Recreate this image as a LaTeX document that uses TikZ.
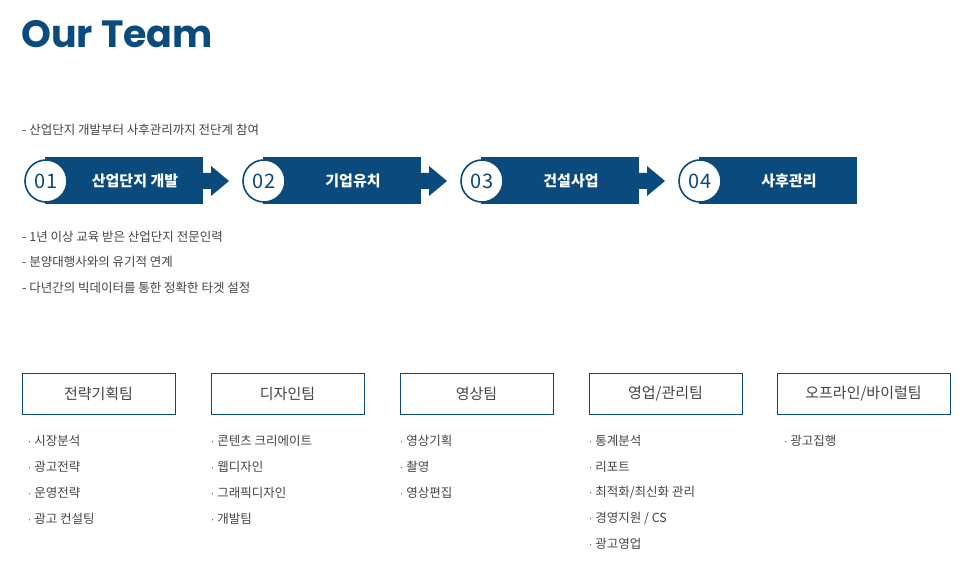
\documentclass[tikz,border=0pt]{standalone}
\usepackage{fontspec}
\setmainfont{Noto Sans CJK KR}
\newfontfamily\titlefont{Poppins}
\definecolor{teamblue}{HTML}{0B4A7C}
\definecolor{textgray}{HTML}{444444}
\tikzset{
  stepbar/.style={fill=teamblue, draw=none},
  stepnum/.style={circle, draw=teamblue, line width=1.6pt, fill=white, minimum size=42pt, inner sep=0pt, font=\fontsize{20}{20}\selectfont, text=teamblue},
  steplabel/.style={text=white, font=\fontsize{15}{15}\selectfont\bfseries},
  teambox/.style={draw=teamblue, line width=0.8pt, minimum height=41pt, inner sep=0pt, font=\fontsize{15}{15}\selectfont, text=textgray},
  note/.style={anchor=west, text=textgray, font=\fontsize{12.5}{12.5}\selectfont, inner sep=0pt},
}
\begin{document}
\begin{tikzpicture}[x=1pt,y=-1pt]
   \useasboundingbox (0,0) rectangle (966,569);

   \node [anchor=base west, inner sep=0pt, text=teamblue] (title) at (21,48) {\titlefont\fontsize{38}{38}\selectfont\bfseries Our Team};

   \node [note] (intro) at (22,130) {- 산업단지 개발부터 사후관리까지 전단계 참여};

   % steps
   \foreach \i/\txt [count=\k from 0] in {01/산업단지 개발, 02/기업유치, 03/건설사업, 04/사후관리} {
      \fill [stepbar] ({45+218*\k},157) rectangle ({203+218*\k},204);
      \node [stepnum] (num\i) at ({46+218*\k},181) {\i};
      \node [steplabel] (lab\i) at ({135+218*\k},181) {\txt};
   }
   \foreach \k in {0,1,2} {
      \fill [teamblue] ({203+218*\k},173) -- ({211+218*\k},173) -- ({211+218*\k},166)
         -- ({229+218*\k},181) -- ({211+218*\k},196) -- ({211+218*\k},189) -- ({203+218*\k},189) -- cycle;
   }

   \node [note] (pt1) at (22,237) {- 1년 이상 교육 받은 산업단지 전문인력};
   \node [note] (pt2) at (22,262) {- 분양대행사와의 유기적 연계};
   \node [note] (pt3) at (22,288) {- 다년간의 빅데이터를 통한 정확한 타겟 설정};

   % teams
   \node [teambox, minimum width=153pt] (team1) at (98.5,393.5) {전략기획팀};
   \node [teambox, minimum width=153pt] (team2) at (287.5,393.5) {디자인팀};
   \node [teambox, minimum width=153pt] (team3) at (476.5,393.5) {영상팀};
   \node [teambox, minimum width=153pt] (team4) at (665.5,393.5) {영업/관리팀};
   \node [teambox, minimum width=173pt] (team5) at (863.5,393.5) {오프라인/바이럴팀};

   \foreach \x/\items in {27/{시장분석,광고전략,운영전략,광고 컨설팅},
                          210/{콘텐츠 크리에이트,웹디자인,그래픽디자인,개발팀},
                          399/{영상기획,촬영,영상편집},
                          588/{통계분석,리포트,최적화/최신화 관리,경영지원 / CS,광고영업},
                          783/{광고집행}} {
      \foreach \item [count=\j from 0] in \items {
         \node [note] at (\x,{441+25.8*\j}) {{\fontsize{9}{9}\selectfont·}\,\item};
      }
   }
\end{tikzpicture}
\end{document}
